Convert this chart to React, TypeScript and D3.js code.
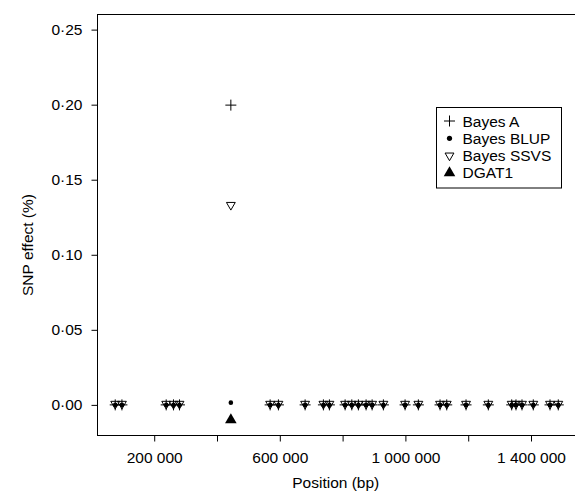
import React, { useRef, useEffect } from 'react';
import * as d3 from 'd3';

// SNP positions (bp) along the chromosome segment
const positions = [
  75850, 97180, 238200, 261400, 280500, 444100, 569200, 595600, 680600,
  738900, 758000, 808000, 829300, 850300, 874800, 894000, 929900, 999000,
  1041300, 1110300, 1131600, 1193100, 1264100, 1338500, 1352200, 1371300,
  1407300, 1460500, 1486900,
];

// SNP effects (%) for each method, same order as positions
const bayesA = [
  0, 0, 0, 0, 0, 0.1997, 0, 0, 0, 0, 0, 0, 0, 0, 0, 0, 0, 0, 0, 0, 0, 0, 0,
  0, 0, 0, 0, 0, 0,
];
const bayesBLUP = [
  0, 0, 0, 0, 0, 0.0015, 0, 0, 0, 0, 0, 0, 0, 0, 0, 0, 0, 0, 0, 0, 0, 0, 0,
  0, 0, 0, 0, 0, 0,
];
const bayesSSVS = [
  0, 0, 0, 0, 0, 0.1325, 0, 0, 0, 0, 0, 0, 0, 0, 0, 0, 0, 0, 0, 0, 0, 0, 0,
  0, 0, 0, 0, 0, 0,
];

// DGAT1 marker
const dgat1Position = [444100];
const dgat1Value = [-0.01];

const xTicks = [200000, 400000, 600000, 800000, 1000000, 1200000, 1400000];
const xTickLabels = ['200 000', '', '600 000', '', '1 000 000', '', '1 400 000'];
const yTicks = [0, 0.05, 0.1, 0.15, 0.2, 0.25];

const legendLabels = ['Bayes A', 'Bayes BLUP', 'Bayes SSVS', 'DGAT1'];

const FONT = '"Liberation Sans", Arial, sans-serif';
const FS = 15.5;

const App = () => {
  const svgRef = useRef<SVGSVGElement>(null);

  useEffect(() => {
    const width = 575;
    const height = 493;
    const left = 97.5;
    const right = 576;
    const top = 14;
    const bottom = 435.5;

    const svg = d3.select(svgRef.current).attr('width', width).attr('height', height);
    svg.selectAll('*').remove();

    const x = d3.scaleLinear().domain([19400, 1543300]).range([left, right]);
    const y = d3.scaleLinear().domain([-0.0204, 0.2604]).range([bottom, top]);

    // plot box
    svg
      .append('rect')
      .attr('x', left)
      .attr('y', top + 0.5)
      .attr('width', right - left)
      .attr('height', bottom - top - 0.5)
      .attr('fill', 'none')
      .attr('stroke', 'black')
      .attr('stroke-width', 1);

    // y axis
    const yAxis = svg
      .append('g')
      .attr('transform', `translate(${left},0)`)
      .call(
        d3
          .axisLeft(y)
          .tickValues(yTicks)
          .tickSize(6)
          .tickPadding(9)
          .tickFormat((d) => d3.format('.2f')(d as number).replace('.', '·'))
      );
    yAxis.select('.domain').remove();
    yAxis.selectAll('text').attr('font-family', FONT).attr('font-size', FS).attr('fill', 'black');

    // x axis
    const xAxis = svg
      .append('g')
      .attr('transform', `translate(0,${bottom})`)
      .call(
        d3
          .axisBottom(x)
          .tickValues(xTicks)
          .tickSize(6)
          .tickPadding(10)
          .tickFormat((d, i) => xTickLabels[i])
      );
    xAxis.select('.domain').remove();
    xAxis.selectAll('text').attr('font-family', FONT).attr('font-size', FS).attr('fill', 'black');

    // axis titles
    svg
      .append('text')
      .attr('x', (left + right) / 2 - 1)
      .attr('y', 488)
      .attr('text-anchor', 'middle')
      .attr('font-family', FONT)
      .attr('font-size', FS)
      .text('Position (bp)');

    svg
      .append('text')
      .attr('transform', `translate(33,245) rotate(-90)`)
      .attr('text-anchor', 'middle')
      .attr('font-family', FONT)
      .attr('font-size', FS)
      .text('SNP effect (%)');

    const plus = 'M-5.5,0H5.5M0,-5.5V5.5';
    const downTri = d3.symbol().type(d3.symbolTriangle).size(34)();
    const upTri = d3.symbol().type(d3.symbolTriangle).size(58)();

    const pts = svg.append('g');

    // Bayes SSVS: open down triangles
    pts
      .selectAll('.ssvs')
      .data(positions)
      .enter()
      .append('path')
      .attr('d', downTri)
      .attr('transform', (d, i) => `translate(${x(d)},${y(bayesSSVS[i]) - 1}) rotate(180)`)
      .attr('fill', 'none')
      .attr('stroke', 'black')
      .attr('stroke-width', 1);

    // Bayes A: plus
    pts
      .selectAll('.ba')
      .data(positions)
      .enter()
      .append('path')
      .attr('d', plus)
      .attr('transform', (d, i) => `translate(${x(d)},${y(bayesA[i])})`)
      .attr('fill', 'none')
      .attr('stroke', 'black')
      .attr('stroke-width', 1);

    // Bayes BLUP: small dots
    pts
      .selectAll('.blup')
      .data(positions)
      .enter()
      .append('circle')
      .attr('cx', (d) => x(d))
      .attr('cy', (d, i) => y(bayesBLUP[i]))
      .attr('r', 2.3)
      .attr('fill', 'black');

    // DGAT1: filled triangle
    pts
      .selectAll('.dgat')
      .data(dgat1Position)
      .enter()
      .append('path')
      .attr('d', upTri)
      .attr('transform', (d, i) => `translate(${x(d)},${y(dgat1Value[i])})`)
      .attr('fill', 'black');

    // legend
    const lg = svg.append('g');
    lg.append('rect')
      .attr('x', 436.5)
      .attr('y', 107.5)
      .attr('width', 125)
      .attr('height', 80.5)
      .attr('fill', 'white')
      .attr('stroke', 'black');

    const rowY = (i: number) => 121 + i * 17.3;
    const mx = 449.5;

    lg.append('path').attr('d', plus).attr('transform', `translate(${mx},${rowY(0)})`).attr('stroke', 'black');
    lg.append('circle').attr('cx', mx).attr('cy', rowY(1)).attr('r', 2.6).attr('fill', 'black');
    lg.append('path')
      .attr('d', downTri)
      .attr('transform', `translate(${mx},${rowY(2)}) rotate(180)`)
      .attr('fill', 'none')
      .attr('stroke', 'black');
    lg.append('path').attr('d', upTri).attr('transform', `translate(${mx},${rowY(3)})`).attr('fill', 'black');

    lg.selectAll('.lt')
      .data(legendLabels)
      .enter()
      .append('text')
      .attr('x', 462.5)
      .attr('y', (d, i) => rowY(i))
      .attr('dy', '0.36em')
      .attr('font-family', FONT)
      .attr('font-size', FS)
      .text((d) => d);
  }, []);

  return (
    <div style={{ position: 'absolute', left: 0, top: 0 }}>
      <svg ref={svgRef} style={{ display: 'block' }} />
    </div>
  );
};

export default App;
